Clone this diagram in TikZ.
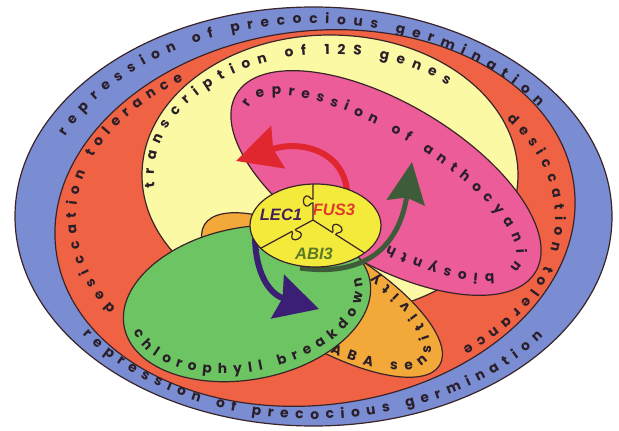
\documentclass[tikz,border=0pt]{standalone}
\usepackage{fontspec}
\usetikzlibrary{decorations.text,arrows.meta}
\newfontfamily\ringfont{Poppins}
\newfontfamily\labfont{Liberation Sans}
\newcommand{\rf}{\ringfont\bfseries\fontsize{13.8}{16}\selectfont}
\definecolor{cblue}{HTML}{7A8CD2}
\definecolor{cred}{HTML}{EF6244}
\definecolor{cpale}{HTML}{FCF9A4}
\definecolor{cpink}{HTML}{EB5C98}
\definecolor{cgreen}{HTML}{6CC462}
\definecolor{corange}{HTML}{F2A93A}
\definecolor{ccenter}{HTML}{F4EA3C}
\definecolor{cline}{HTML}{3A2428}
\definecolor{ctext}{HTML}{2A1E28}
\definecolor{cpurple}{HTML}{3A1F74}
\definecolor{cdkgreen}{HTML}{3F5C3A}
\definecolor{carrowred}{HTML}{E0262E}
\definecolor{clec}{HTML}{43215A}
\definecolor{cfus}{HTML}{E23A2A}
\definecolor{cabi}{HTML}{5A7A28}
\begin{document}
\begin{tikzpicture}[x=1pt,y=1pt,
  region/.style={draw=cline, line width=1.2pt},
  ringtext/.style={decorate, decoration={text along path, text align={fit to path}, text color=ctext, text={|\rf|#1}}},
  knobline/.style={draw=cline, line width=1.2pt},
  lab/.style={font=\labfont\bfseries\itshape\fontsize{16.5}{18}\selectfont},
  ]
\useasboundingbox (0,0) rectangle (619,-431);
\fill[white] (0,0) rectangle (619,-431);
% outer blue ellipse
\path[region, fill=cblue] (313.5,-216.5) ellipse [x radius=298.5pt, y radius=209.5pt];
\path[ringtext={repression of precocious germination}] (155.5:273pt and 193pt) ++(313.5,-216.5) arc[start angle=155.5, end angle=34.5, x radius=273pt, y radius=193pt];
\path[ringtext={repression of precocious germination}] (215.8:285pt and 202.5pt) ++(313.5,-216.5) arc[start angle=215.8, end angle=323.7, x radius=285pt, y radius=202.5pt];
% red ellipse
\begin{scope}[shift={(315,-218)}, rotate=7]
\path[region, fill=cred] (0,0) ellipse [x radius=261pt, y radius=187pt];
\end{scope}
\begin{scope}[shift={(315,-218)}]
\path[ringtext={desiccation tolerance}] (213.5:239pt and 164pt) arc[start angle=213.5, end angle=123.5, x radius=239pt, y radius=164pt];
\path[ringtext={desiccation tolerance}] (37:240pt and 164pt) arc[start angle=37, end angle=-52, x radius=240pt, y radius=164pt];
\end{scope}
% pale yellow ellipse
\begin{scope}[shift={(330,-175)}]
\path[region, fill=cpale] (0,0) ellipse [x radius=188pt, y radius=140pt];
\path[ringtext={transcription of 12S genes}] (186:176pt and 121pt) arc[start angle=186, end angle=48, x radius=176pt, y radius=121pt];
\end{scope}
% orange ellipse
\begin{scope}[shift={(322,-295)}, rotate=-30.8]
\path[region, fill=corange] (0,0) ellipse [x radius=137pt, y radius=50pt];
\path[ringtext={ABA sensitivity}] (287:124pt and 47pt) arc[start angle=287, end angle=434, x radius=124pt, y radius=47pt];
\end{scope}
% pink ellipse
\begin{scope}[shift={(386,-183)}, rotate=-30.7]
\path[region, fill=cpink] (0,0) ellipse [x radius=174pt, y radius=80pt];
\end{scope}
\begin{scope}[shift={(381.5,-184.4)}, rotate=-30.7]
\path[ringtext={repression of anthocyanin biosynth}] (182:154pt and 50pt) arc[start angle=182, end angle=-76, x radius=154pt, y radius=50pt];
\end{scope}
% green ellipse
\begin{scope}[shift={(247,-303.5)}, rotate=10.7]
\path[region, fill=cgreen] (0,0) ellipse [x radius=125pt, y radius=76pt];
\path[ringtext={chlorophyll breakdown}] (185:117pt and 68pt) arc[start angle=185, end angle=364, x radius=117pt, y radius=68pt];
\end{scope}
% arrows
\coordinate (rs) at (347,-190);
\coordinate (re) at (236,-161);
\coordinate (gs) at (300,-268);
\coordinate (ge) at (412,-162);
\coordinate (ps) at (255,-238);
\coordinate (pe) at (319,-309);
\draw[line width=6pt, carrowred, -{Stealth[length=44pt,width=44pt,inset=5pt]}] (rs) .. controls (342,-150) and (300,-140) .. (re);
\draw[line width=5pt, cdkgreen, -{Stealth[length=41pt,width=38pt,inset=5pt]}] (gs) .. controls (372,-278) and (400,-240) .. (ge);
\draw[line width=6pt, cpurple, -{Stealth[length=43pt,width=45pt,inset=5pt]}] (ps) .. controls (256,-278) and (272,-295) .. (pe);
% center ellipse
\path[fill=ccenter] (315.5,-225.5) ellipse [x radius=65.5pt, y radius=41.5pt];
\begin{scope}
\clip (315.5,-225.5) ellipse [x radius=65.5pt, y radius=41.5pt];
\begin{scope}[shift={(313,-220)}, rotate=90]
\path[knobline] (0,0) -- (17,0) .. controls (18,2.5) and (13,3.5) .. (14,7) .. controls (15,10.5) and (23,10.5) .. (24,7) .. controls (25,3.5) and (20,2.5) .. (21,0) -- (60,0);
\end{scope}
\begin{scope}[shift={(313,-220)}, rotate=208.4]
\path[knobline] (0,0) -- (20,0) .. controls (21,2.5) and (16,3.5) .. (17,7) .. controls (18,10.5) and (26,10.5) .. (27,7) .. controls (28,3.5) and (23,2.5) .. (24,0) -- (80,0);
\end{scope}
\begin{scope}[shift={(313,-220)}, rotate=-32.6]
\path[knobline] (0,0) -- (23,0) .. controls (24,2.5) and (19,3.5) .. (20,7) .. controls (21,10.5) and (29,10.5) .. (30,7) .. controls (31,3.5) and (26,2.5) .. (27,0) -- (80,0);
\end{scope}
\end{scope}
\path[region] (315.5,-225.5) ellipse [x radius=65.5pt, y radius=41.5pt];
\node[lab, text=clec] (lec) at (281,-215) {LEC1};
\node[lab, text=cfus] (fus) at (334,-210) {FUS3};
\node[lab, text=cabi] (abi) at (314,-254) {ABI3};
\end{tikzpicture}
\end{document}
